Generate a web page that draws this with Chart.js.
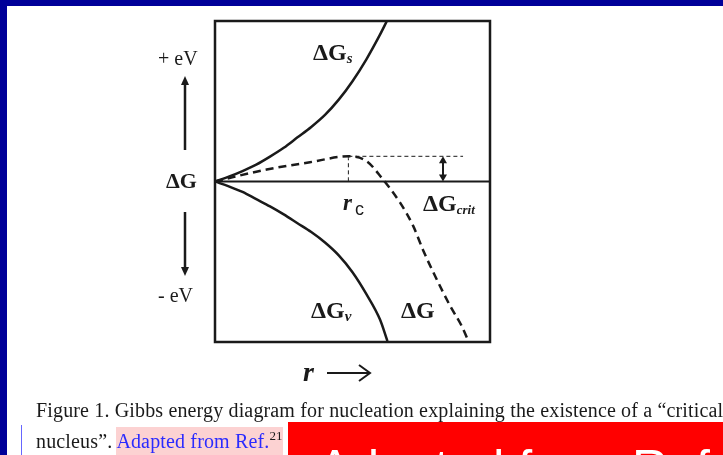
<!DOCTYPE html>
<html>
<head>
<meta charset="utf-8">
<script src="https://cdn.jsdelivr.net/npm/chart.js@4"></script>
<style>
  body { margin: 0; width: 723px; height: 455px; overflow: hidden; background: #fff; position: relative; }
  .frame-top { position: absolute; left: 0; top: 0; width: 723px; height: 6px; background: #000099; }
  .frame-left { position: absolute; left: 0; top: 0; width: 7px; height: 455px; background: #000099; }
  #chart { position: absolute; left: 0; top: 0; }
  .caption { position: absolute; left: 36px; white-space: nowrap; font-family: "Liberation Serif", serif; font-size: 20px; letter-spacing: 0.15px; color: #1a1a1a; }
  .hl { background: #fcd2d2; color: #2b2bff; padding: 3px 0 4px 0; }
  .hl sup { font-size: 13px; color: #1a1a1a; }
  .redbox { position: absolute; left: 288px; top: 422px; width: 435px; height: 33px; background: #ff0000; overflow: hidden; }
  .redbox span { position: absolute; left: 30px; top: 21px; line-height: 1; font-family: "Liberation Sans", sans-serif; font-size: 50px; color: #fff; white-space: nowrap; }
  .cursor { position: absolute; left: 21px; top: 425px; width: 1px; height: 30px; background: #6666ff; }
</style>
</head>
<body>
<div class="frame-top"></div>
<div class="frame-left"></div>
<canvas id="chart" width="723" height="455"></canvas>
<div class="caption" style="top:399px">Figure 1. Gibbs energy diagram for nucleation explaining the existence of a “critical</div>
<div class="caption" style="top:428px">nucleus”. <span class="hl">Adapted from Ref.<sup>21</sup></span></div>
<div class="cursor"></div>
<div class="redbox"><span>Adapted from Ref</span></div>
<script>
// surface term, rises with r
const gsR = [0, 0.05, 0.1, 0.15, 0.2, 0.25, 0.3, 0.35, 0.4, 0.45, 0.5, 0.55, 0.6, 0.625];
const gsVal = [0, 0.03, 0.065, 0.105, 0.155, 0.21, 0.275, 0.34, 0.415, 0.51, 0.625, 0.76, 0.915, 1.0];

// volume term, falls with r
const gvR = [0, 0.05, 0.1, 0.15, 0.2, 0.25, 0.3, 0.35, 0.4, 0.45, 0.5, 0.55, 0.6, 0.627];
const gvVal = [0, -0.03, -0.065, -0.11, -0.155, -0.205, -0.26, -0.315, -0.38, -0.46, -0.565, -0.7, -0.86, -0.994];

// total
const gR = [0, 0.188, 0.345, 0.485, 0.552, 0.606, 0.673, 0.721, 0.758, 0.806, 0.855, 0.897, 0.921];
const gVal = [0, 0.075, 0.12, 0.157, 0.126, 0.023, -0.132, -0.278, -0.433, -0.609, -0.775, -0.9, -0.992];

const rCrit = 0.485;
const gCrit = 0.157;
const critLineEnd = 0.902;
const critArrowR = 0.829;

function pts(xs, ys) {
    return xs.map((x, i) => ({ x: x, y: ys[i] }));
}

function sub(ctx, main, s, x, y, mainFont, subFont, dy) {
    ctx.font = mainFont;
    ctx.fillText(main, x, y);
    const w = ctx.measureText(main).width;
    ctx.font = subFont;
    ctx.fillText(s, x + w, y + dy);
}

function arrowHead(ctx, x, y, dx, dy, len, half) {
    ctx.beginPath();
    ctx.moveTo(x, y);
    ctx.lineTo(x - dx * len - dy * half, y - dy * len + dx * half);
    ctx.lineTo(x - dx * len + dy * half, y - dy * len - dx * half);
    ctx.closePath();
    ctx.fill();
}

const decor = {
    id: 'decor',
    afterDraw(chart) {
        const ctx = chart.ctx;
        const a = chart.chartArea;
        const xs = chart.scales.x, ys = chart.scales.y;
        ctx.save();
        ctx.strokeStyle = '#1a1a1a';
        ctx.fillStyle = '#1a1a1a';
        ctx.lineWidth = 2.5;
        ctx.strokeRect(a.left, a.top, a.right - a.left, a.bottom - a.top);

        // double arrow for the barrier height
        const ax = xs.getPixelForValue(critArrowR);
        const y0 = ys.getPixelForValue(0), y1 = ys.getPixelForValue(gCrit);
        ctx.lineWidth = 2;
        ctx.beginPath();
        ctx.moveTo(ax, y1 + 5);
        ctx.lineTo(ax, y0 - 5);
        ctx.stroke();
        arrowHead(ctx, ax, y1, 0, -1, 7, 4);
        arrowHead(ctx, ax, y0, 0, 1, 7, 4);

        // left energy axis
        const lx = 185;
        ctx.lineWidth = 2.5;
        ctx.beginPath();
        ctx.moveTo(lx, 150); ctx.lineTo(lx, 84);
        ctx.moveTo(lx, 212); ctx.lineTo(lx, 268);
        ctx.stroke();
        arrowHead(ctx, lx, 76, 0, -1, 9, 4);
        arrowHead(ctx, lx, 276, 0, 1, 9, 4);

        ctx.textBaseline = 'alphabetic';
        ctx.textAlign = 'left';
        ctx.font = '20px "Liberation Serif"';
        ctx.fillText('+ eV', 158, 65);
        ctx.fillText('- eV', 158, 302);
        ctx.font = 'bold 22px "Liberation Serif"';
        ctx.fillText('ΔG', 166, 188);

        // curve labels
        const bf = 'bold 24px "Liberation Serif"';
        const sf = 'bold italic 15px "Liberation Serif"';
        sub(ctx, 'ΔG', 's', 313, 60, bf, sf, 3);
        sub(ctx, 'ΔG', 'v', 311, 318, bf, sf, 3);
        sub(ctx, 'ΔG', 'crit', 423, 211, bf, 'bold italic 13px "Liberation Serif"', 3);
        ctx.font = bf;
        ctx.fillText('ΔG', 401, 318);
        ctx.font = 'italic bold 23px "Liberation Serif"';
        ctx.fillText('r', 343, 210);
        ctx.font = '18px "Liberation Sans"';
        ctx.fillText('c', 355, 215);

        // r axis label
        ctx.font = 'italic bold 28px "Liberation Serif"';
        ctx.fillText('r', 303, 381);
        ctx.lineWidth = 2;
        ctx.beginPath();
        ctx.moveTo(327, 373); ctx.lineTo(369, 373);
        ctx.moveTo(359, 365); ctx.lineTo(370, 373); ctx.lineTo(359, 381);
        ctx.stroke();
        ctx.restore();
    }
};

const solid = { borderColor: '#1a1a1a', borderWidth: 2.5, pointRadius: 0, showLine: true, cubicInterpolationMode: 'monotone', fill: false };

new Chart(document.getElementById('chart'), {
    type: 'scatter',
    data: {
        datasets: [
            { ...solid, label: 'ΔGs', data: pts(gsR, gsVal) },
            { ...solid, label: 'ΔGv', data: pts(gvR, gvVal) },
            { ...solid, label: 'ΔG', data: pts(gR, gVal), borderDash: [8, 5] },
            { ...solid, label: 'zero', data: pts([0, 1], [0, 0]), borderWidth: 2.2 },
            { ...solid, label: 'crit', data: pts([rCrit, critLineEnd], [gCrit, gCrit]), borderWidth: 1, borderDash: [4, 3] },
            { ...solid, label: 'rc', data: pts([rCrit, rCrit], [gCrit, 0]), borderWidth: 1, borderDash: [4, 3] }
        ]
    },
    options: {
        responsive: false,
        animation: false,
        layout: { padding: { left: 215, right: 233, top: 21, bottom: 113 } },
        plugins: { legend: { display: false }, tooltip: { enabled: false } },
        scales: {
            x: { type: 'linear', min: 0, max: 1, display: false },
            y: { type: 'linear', min: -1, max: 1, display: false }
        }
    },
    plugins: [decor]
});
</script>
</body>
</html>
